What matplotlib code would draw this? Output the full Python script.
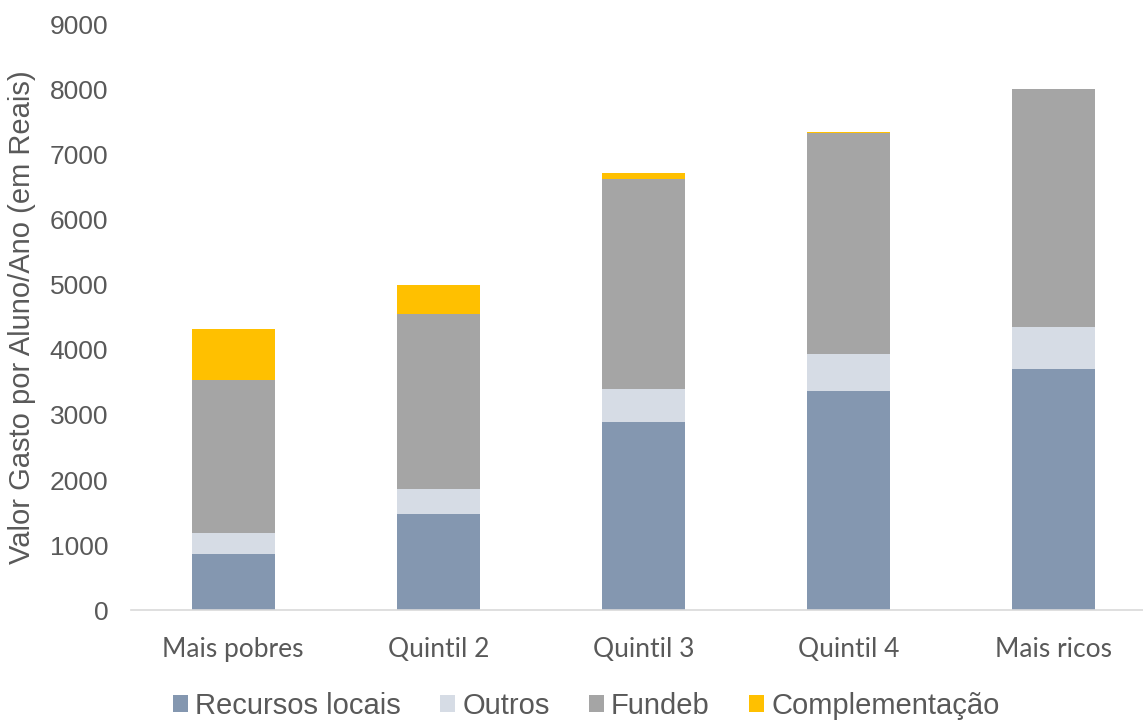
import matplotlib
matplotlib.use("Agg")
import matplotlib.pyplot as plt
from matplotlib.patches import Patch

categories = ["Mais pobres", "Quintil 2", "Quintil 3", "Quintil 4", "Mais ricos"]
recursos_locais = [867, 1485, 2888, 3373, 3710]
outros = [327, 375, 511, 563, 640]
fundeb = [2338, 2694, 3218, 3396, 3648]
complementacao = [788, 441, 96, 15, 0]
series_names = ["Recursos locais", "Outros", "Fundeb", "Complementação"]
colors = ["#8497B0", "#D6DCE5", "#A5A5A5", "#FFC000"]
yticks = [0, 1000, 2000, 3000, 4000, 5000, 6000, 7000, 8000, 9000]

fig = plt.figure(figsize=(11.43, 7.21), dpi=100)
ax = fig.add_axes([0.1142, 0.1533, 0.8976, 0.8134])

x = list(range(len(categories)))
bottom = [0] * len(categories)
for vals, col in zip([recursos_locais, outros, fundeb, complementacao], colors):
    ax.bar(x, vals, width=0.405, bottom=bottom, color=col, edgecolor="none", zorder=2)
    bottom = [b + v for b, v in zip(bottom, vals)]

ax.set_xlim(-0.5, 4.5)
ax.set_ylim(0, 9000)
ax.set_yticks(yticks)
ax.set_yticklabels([str(t) for t in yticks], fontsize=19, color="#595959", family="Liberation Sans")
ax.set_xticks(x)
ax.set_xticklabels(categories, fontsize=19, color="#595959", family="Lato")
ax.tick_params(axis="both", length=0)
ax.tick_params(axis="y", pad=16)
ax.tick_params(axis="x", pad=19)
for s in ["top", "right", "left"]:
    ax.spines[s].set_visible(False)
ax.spines["bottom"].set_color("#D9D9D9")
ax.spines["bottom"].set_linewidth(1.2)
ax.set_ylabel("Valor Gasto por Aluno/Ano (em Reais)", fontsize=21, color="#595959",
              family="Liberation Sans", labelpad=10)

handles = [Patch(facecolor=c, edgecolor="none") for c in colors]
fig.legend(handles, series_names, loc="center", bbox_to_anchor=(0.513, 0.021), ncol=4,
           frameon=False, prop={"family": "Liberation Sans", "size": 21},
           handlelength=0.52, handleheight=0.52, handletextpad=0.24, columnspacing=1.34,
           labelcolor="#595959", borderpad=0.1)

fig.savefig("out.png", dpi=100)
